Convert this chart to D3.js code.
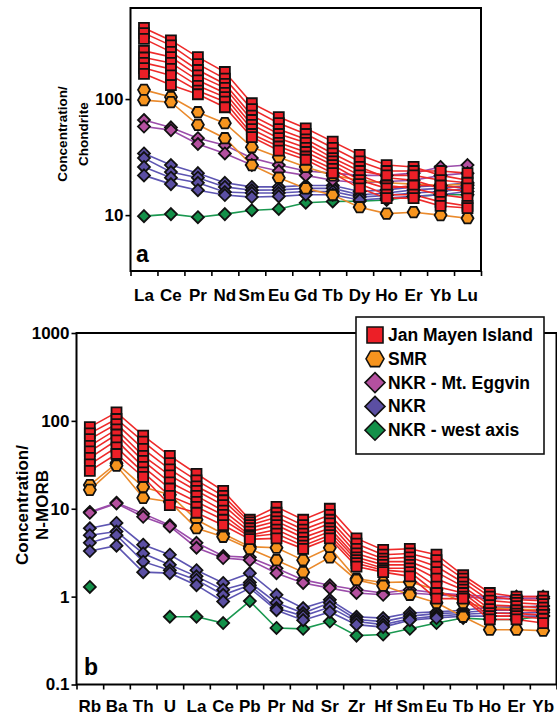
<!DOCTYPE html>
<html>
<head>
<meta charset="utf-8">
<script src="https://cdn.jsdelivr.net/npm/d3@7"></script>
<style>
  body { margin: 0; background: #fff; }
  svg { display: block; }
  text { font-family: "Liberation Sans", Arial, sans-serif; font-weight: bold; }
</style>
</head>
<body>
<div id="chart"></div>
<script>
// Elements on the x axes
var reeElements = ["La", "Ce", "Pr", "Nd", "Sm", "Eu", "Gd", "Tb", "Dy", "Ho", "Er", "Yb", "Lu"];
var spiderElements = ["Rb", "Ba", "Th", "U", "La", "Ce", "Pb", "Pr", "Nd", "Sr", "Zr", "Hf", "Sm", "Eu", "Tb", "Ho", "Er", "Yb"];

var groupNames = ["Jan Mayen Island", "SMR", "NKR - Mt. Eggvin", "NKR", "NKR - west axis"];

// y tick labels
var reeTicks = [10, 100];
var spiderTicks = [0.1, 1, 10, 100, 1000];

// Panel a: chondrite normalised REE
var janMayenREE = [
  [410, 320, 230, 171, 92, 70, 56, 43, 33, 27, 26, 22, 20],
  [370, 290, 200, 150, 82, 62, 50, 38, 29, 24, 24, 24, 23],
  [330, 255, 178, 135, 72, 55, 45, 34, 26, 21, 20, 17, 16],
  [260, 230, 160, 125, 66, 50, 42, 31, 24, 22, 22, 20, 19],
  [228, 205, 145, 113, 60, 46, 38, 29, 22, 18, 17, 15, 14],
  [205, 182, 130, 104, 55, 42, 35, 27, 20, 17, 18, 18, 17],
  [185, 160, 118, 95, 50, 39, 32, 25, 18.5, 15, 15, 13, 12],
  [165, 132, 110, 85, 47, 36, 30, 23, 17, 14, 14, 12, 11.5]
];
var smrREE = [
  [120, 104, 77, 62, 38.5, 31.6, 26, 22, 20, 19, 18.5, 18, 18.5],
  [98, 94, 60, 46, 27, 21, 17, 14.9, 11.7, 10.3, 10.6, 10, 9.4]
];
var eggvinREE = [
  [66, 57, 46, 40, 31, 27, 24, 23, 22, 22, 23, 26, 27],
  [58, 54, 41, 34, 27, 24, 22, 20, 19, 19.5, 20, 22, 23]
];
var nkrREE = [
  [34, 27, 23, 19, 17.5, 17.5, 18, 18, 16, 16.5, 17.5, 18, 19],
  [31, 23.5, 21, 17.5, 16.4, 16.5, 17, 17, 15, 15.5, 16.5, 17, 18],
  [26, 21, 19, 15.8, 15.5, 15.5, 16, 16, 14.3, 14.8, 15.5, 16, 17],
  [22, 18.5, 16.4, 14.9, 14.3, 14.5, 15, 15, 13.5, 14, 14.5, 15, 16]
];
var westAxisREE = [
  [9.8, 10.2, 9.6, 10.2, 11, 11.3, 12.8, 13.1, 13.2, 13.5, 14.5, 15, 15]
];

// Panel b: N-MORB normalised trace elements
var janMayenSpider = [
  [85, 125, 68, 40, 25, 16, 7.5, 10.5, 7.5, 10, 4.6, 3.4, 3.5, 3.0, 1.75, 1.1, 1.0, 1.0],
  [72, 105, 58, 33, 21, 14, 7, 9, 6.5, 8.5, 4.0, 3.0, 3.1, 2.6, 1.6, 1.0, 0.92, 0.9],
  [62, 92, 48, 28, 18, 12.5, 6.5, 8, 5.8, 7.5, 3.5, 2.7, 2.8, 2.2, 1.45, 0.9, 0.85, 0.82],
  [52, 80, 40, 24, 16, 11, 6, 7.2, 5.2, 6.8, 3.1, 2.5, 2.5, 1.9, 1.3, 0.8, 0.78, 0.75],
  [45, 70, 35, 20, 14, 9.5, 5.5, 6.5, 4.7, 6, 2.8, 2.3, 2.3, 1.6, 1.2, 0.72, 0.7, 0.68],
  [38, 60, 30, 17, 12, 8.5, 5, 5.8, 4.2, 5.5, 2.6, 2.1, 2.1, 1.3, 1.1, 0.65, 0.64, 0.62],
  [32, 50, 26, 14, 10.5, 7.5, 4.8, 5.2, 3.8, 5, 2.4, 2.0, 1.9, 1.1, 1.0, 0.6, 0.6, 0.56],
  [27, 42, 23, 11, 9, 6.5, 4.5, 4.6, 3.5, 4.6, 2.2, 1.9, 1.7, 0.95, 0.95, 0.55, 0.55, 0.5]
];
var smrSpider = [
  [18.6, 33, 17.7, 14.4, 7.5, 5.2, 3.7, 3.6, 2.6, 3.6, 1.6, 1.45, 1.47, 1.2, 0.85, 0.75, 0.72, 0.7],
  [16.4, 31, 13.3, 12, 6.0, 4.8, 3.5, 2.6, 1.9, 2.8, 1.55, 1.33, 1.05, 0.85, 0.59, 0.42, 0.42, 0.41]
];
var eggvinSpider = [
  [9.2, 11.7, 8.8, 6.5, 4.1, 2.9, 2.8, 2.1, 1.55, 1.35, 1.2, 1.1, 1.2, 1.1, 1.05, 1.0, 1.0, 1.0],
  [9.0, 11.5, 8.1, 6.3, 3.6, 2.75, 2.6, 1.85, 1.43, 1.25, 1.1, 1.05, 1.1, 1.05, 1.0, 0.95, 0.95, 0.95]
];
var nkrSpider = [
  [6.0, 6.9, 3.9, 3.0, 2.0, 1.43, 1.85, 1.05, 0.74, 0.92, 0.59, 0.57, 0.65, 0.67, 0.7, 0.76, 0.76, 0.78],
  [5.0, 5.5, 3.1, 2.3, 1.7, 1.2, 1.45, 0.85, 0.65, 0.85, 0.55, 0.52, 0.6, 0.64, 0.66, 0.7, 0.7, 0.72],
  [4.1, 5.0, 2.5, 2.0, 1.55, 1.05, 1.35, 0.74, 0.6, 0.76, 0.52, 0.48, 0.56, 0.6, 0.63, 0.65, 0.65, 0.66],
  [3.3, 3.8, 1.9, 1.85, 1.35, 0.88, 1.25, 0.7, 0.54, 0.67, 0.48, 0.45, 0.54, 0.57, 0.6, 0.6, 0.6, 0.6]
];
var westAxisSpider = [
  [1.29, null, null, 0.59, 0.59, 0.5, 0.89, 0.44, 0.43, 0.52, 0.36, 0.37, 0.43, 0.5, 0.57, 0.55, 0.55, 0.6]
];

// marker / line styles, same order as groupNames
var groupStyles = [
  { shape: "square", fill: "#ec1f27", line: "#ee2a2a" },
  { shape: "hexagon", fill: "#f7941e", line: "#ea8a2c" },
  { shape: "diamond", fill: "#b4509f", line: "#9b4caa" },
  { shape: "diamond", fill: "#5b4fa3", line: "#5d55b2" },
  { shape: "diamond", fill: "#139049", line: "#1a9850" }
];

var svg = d3.select("#chart").append("svg")
  .attr("width", 557)
  .attr("height", 717);

function markerPath(shape, size) {
  var s = size / 2;
  if (shape === "square") {
    return "M" + (-s) + "," + (-s) + "h" + size + "v" + size + "h" + (-size) + "Z";
  }
  if (shape === "hexagon") {
    var h = s * 0.87;
    return "M" + (-s) + ",0L" + (-s / 2) + "," + (-h) + "L" + (s / 2) + "," + (-h) +
      "L" + s + ",0L" + (s / 2) + "," + h + "L" + (-s / 2) + "," + h + "Z";
  }
  return "M0," + (-s) + "L" + s + ",0L0," + s + "L" + (-s) + ",0Z";
}

function drawPanel(p) {
  var g = svg.append("g");
  var n = p.elements.length;

  var x = d3.scaleBand().domain(p.elements).range([p.left, p.right]);
  var xEdges = d3.scaleLinear().domain([0, n]).range([p.left, p.right]);
  var y = d3.scaleLog().domain(p.yDomain).range([p.bottom, p.top]);

  function cx(i) { return x(p.elements[i]) + x.bandwidth() / 2; }

  // frame
  g.append("rect")
    .attr("x", p.left).attr("y", p.top)
    .attr("width", p.right - p.left).attr("height", p.bottom - p.top)
    .attr("fill", "none").attr("stroke", "#000").attr("stroke-width", 2);

  var line = d3.line()
    .defined(function (d) { return d != null; })
    .x(function (d, i) { return cx(i); })
    .y(function (d) { return y(d); });

  // lines first (west axis at the bottom), then markers
  var order = [4, 3, 2, 1, 0];
  order.forEach(function (gi) {
    var st = groupStyles[gi];
    g.append("g").selectAll("path")
      .data(p.series[gi])
      .enter().append("path")
      .attr("d", line)
      .attr("fill", "none")
      .attr("stroke", st.line)
      .attr("stroke-width", 1.6);
  });

  order.forEach(function (gi) {
    var st = groupStyles[gi];
    var pts = [];
    p.series[gi].forEach(function (row) {
      row.forEach(function (v, i) {
        if (v != null) pts.push({ i: i, v: v });
      });
    });
    var size = st.shape === "square" ? 10 : (st.shape === "hexagon" ? 12 : 12);
    g.append("g").selectAll("path")
      .data(pts)
      .enter().append("path")
      .attr("transform", function (d) { return "translate(" + cx(d.i) + "," + y(d.v) + ")"; })
      .attr("d", markerPath(st.shape, size))
      .attr("fill", st.fill)
      .attr("stroke", "#111")
      .attr("stroke-width", 1.8);
  });

  // y axis
  var yAxis = g.append("g")
    .attr("transform", "translate(" + p.left + ",0)")
    .call(d3.axisLeft(y).tickValues(p.yTicks).tickFormat(String)
      .tickSize(5).tickSizeOuter(0).tickPadding(2));
  yAxis.select(".domain").remove();
  yAxis.selectAll("line").attr("stroke-width", 1.6);
  yAxis.selectAll("text")
    .attr("font-size", 17).attr("font-family", "Liberation Sans, Arial, sans-serif")
    .attr("fill", "#000");

  // x tick marks on band edges
  var xTickAxis = g.append("g")
    .attr("transform", "translate(0," + p.bottom + ")")
    .call(d3.axisBottom(xEdges).tickValues(d3.range(n + 1)).tickFormat("")
      .tickSize(5).tickSizeOuter(0));
  xTickAxis.select(".domain").remove();
  xTickAxis.selectAll("line").attr("stroke-width", 1.6);

  // x labels at band centres
  var xLabelAxis = g.append("g")
    .attr("transform", "translate(0," + p.bottom + ")")
    .call(d3.axisBottom(x).tickSize(0).tickPadding(p.labelPad));
  xLabelAxis.select(".domain").remove();
  xLabelAxis.selectAll("text")
    .attr("font-size", 17).attr("font-family", "Liberation Sans, Arial, sans-serif")
    .attr("fill", "#000");

  // axis title, two lines
  p.title.forEach(function (t, k) {
    g.append("text")
      .attr("transform", "translate(" + p.titleX[k] + "," + p.titleY + ") rotate(-90)")
      .attr("text-anchor", "middle")
      .attr("dominant-baseline", "central")
      .attr("font-size", p.titleSize)
      .text(t);
  });

  // panel letter
  g.append("text")
    .attr("x", p.letterX).attr("y", p.letterY)
    .attr("font-size", 23)
    .text(p.letter);
}

drawPanel({
  elements: reeElements,
  series: [janMayenREE, smrREE, eggvinREE, nkrREE, westAxisREE],
  left: 130.5, right: 481, top: 8, bottom: 271,
  yDomain: [3.3, 609], yTicks: reeTicks,
  labelPad: 18,
  title: ["Concentration/", "Chondrite"], titleX: [62, 83], titleY: 134, titleSize: 13.5,
  letter: "a", letterX: 136, letterY: 262
});

drawPanel({
  elements: spiderElements,
  series: [janMayenSpider, smrSpider, eggvinSpider, nkrSpider, westAxisSpider],
  left: 76.5, right: 556.5, top: 333, bottom: 684.5,
  yDomain: [0.1, 1000], yTicks: spiderTicks,
  labelPad: 15,
  title: ["Concentration/", "N-MORB"], titleX: [22, 42], titleY: 505, titleSize: 17,
  letter: "b", letterX: 84, letterY: 675
});

// legend
var legend = svg.append("g");
legend.append("rect")
  .attr("x", 356).attr("y", 317)
  .attr("width", 188).attr("height", 137)
  .attr("fill", "#fff").attr("stroke", "#111").attr("stroke-width", 1.6);

var legendSizes = { square: 16, hexagon: 18, diamond: 20 };
groupNames.forEach(function (name, i) {
  var st = groupStyles[i];
  var cy = 335 + i * 23.8;
  legend.append("path")
    .attr("transform", "translate(375," + cy + ")")
    .attr("d", markerPath(st.shape, legendSizes[st.shape]))
    .attr("fill", st.fill).attr("stroke", "#111").attr("stroke-width", 1.6);
  legend.append("text")
    .attr("x", 388).attr("y", cy + 6)
    .attr("font-size", 17.5)
    .text(name);
});
</script>
</body>
</html>
